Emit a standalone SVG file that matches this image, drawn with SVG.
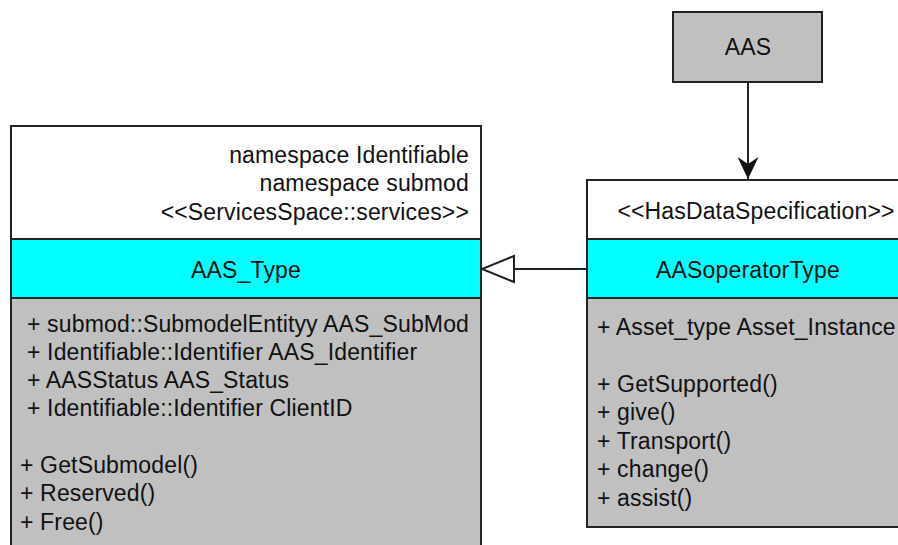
<svg xmlns="http://www.w3.org/2000/svg" width="898" height="545" viewBox="0 0 898 545">
<style>
text{font-family:"Liberation Sans",Arial,sans-serif;font-size:23px;letter-spacing:0.15px;fill:#111}
.box{stroke:#222;stroke-width:2}
.hdr{fill:#ffffff}
.name{fill:#00ffff}
.body{fill:#c0c0c0}
.mid{text-anchor:middle}
.end{text-anchor:end}
.conn{stroke:#222;stroke-width:2;fill:none}
</style>
<defs>
<marker id="gen" markerUnits="userSpaceOnUse" viewBox="-2 -2 36 30" markerWidth="36" markerHeight="30" refX="32" refY="13" orient="auto">
<path d="M0,0 L32,13 L0,26 Z" fill="#ffffff" stroke="#222" stroke-width="2"/>
</marker>
<marker id="vee" markerUnits="userSpaceOnUse" viewBox="0 0 22 21" markerWidth="22" markerHeight="21" refX="22" refY="10.5" orient="auto">
<path d="M0,0 L22,10.5 L0,21 L7,10.5 Z" fill="#111"/>
</marker>
</defs>

<g id="AAS_Type">
<rect class="box hdr" x="11" y="126" width="470" height="113"/>
<rect class="box name" x="11" y="239" width="470" height="59"/>
<rect class="box body" x="11" y="298" width="470" height="260"/>
<text class="end" x="469" y="163">namespace Identifiable</text>
<text class="end" x="469" y="191">namespace submod</text>
<text class="end" x="469" y="220">&lt;&lt;ServicesSpace::services&gt;&gt;</text>
<text class="mid" x="246" y="278">AAS_Type</text>
<text x="27" y="332">+ submod::SubmodelEntityy AAS_SubMod</text>
<text x="27" y="360">+ Identifiable::Identifier AAS_Identifier</text>
<text x="27" y="388">+ AASStatus AAS_Status</text>
<text x="27" y="416">+ Identifiable::Identifier ClientID</text>
<text x="20" y="473">+ GetSubmodel()</text>
<text x="20" y="501">+ Reserved()</text>
<text x="20" y="530">+ Free()</text>
</g>

<g id="AASoperatorType">
<rect class="box hdr" x="587" y="180" width="360" height="59"/>
<rect class="box name" x="587" y="239" width="360" height="59"/>
<rect class="box body" x="587" y="298" width="360" height="229"/>
<text class="mid" x="756" y="219">&lt;&lt;HasDataSpecification&gt;&gt;</text>
<text class="mid" x="748" y="278">AASoperatorType</text>
<text x="597" y="335">+ Asset_type Asset_Instance</text>
<text x="597" y="392">+ GetSupported()</text>
<text x="597" y="420">+ give()</text>
<text x="597" y="449">+ Transport()</text>
<text x="597" y="477">+ change()</text>
<text x="597" y="506">+ assist()</text>
</g>

<g id="AAS">
<rect class="box body" x="673" y="12" width="149" height="70"/>
<text class="mid" x="748" y="55">AAS</text>
</g>

<g id="connectors">
<path class="conn" d="M587,269 L482,269" marker-end="url(#gen)"/>
<path class="conn" d="M748,82 L748,179" marker-end="url(#vee)"/>
</g>
</svg>
